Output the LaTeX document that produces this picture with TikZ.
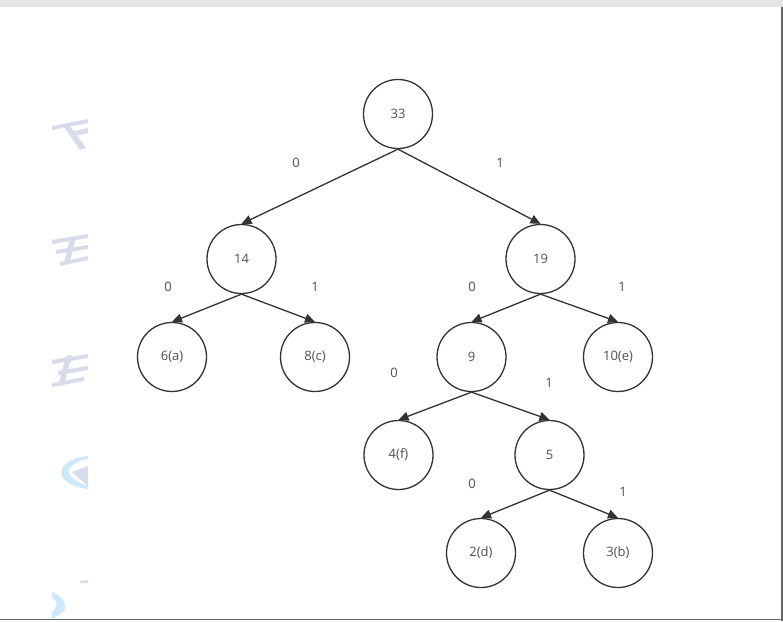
\documentclass[tikz,border=0pt]{standalone}
\usepackage{fontspec}
\setmainfont{Open Sans}
\usetikzlibrary{arrows.meta}
\definecolor{linec}{HTML}{333333}
\definecolor{txtc}{HTML}{505050}
\definecolor{wmgrey}{HTML}{D8DBE9}
\definecolor{wmblue}{HTML}{CDE9F9}
\tikzset{
  tnode/.style={circle, draw=linec, line width=1.3pt, minimum size=69pt, inner sep=0pt, font=\fontsize{13}{15}\selectfont, text=txtc},
  elabel/.style={font=\fontsize{13}{15}\selectfont, text=txtc, inner sep=0pt},
  edge/.style={draw=linec, line width=1.3pt, -{Triangle[length=10pt,width=9pt]}}
}
\begin{document}
\begin{tikzpicture}[x=1pt,y=-1pt]
\useasboundingbox (0,0) rectangle (783,621);
\fill[white] (0,0) rectangle (783,621);
% top bar and frame
\fill[black!10] (0,0) rectangle (783,6.5);
\draw[black!60, line width=2pt] (781.5,6.5) -- (781.5,621);
\draw[black!60, line width=1.5pt] (0,619.5) -- (781.5,619.5);
% faint watermark fragments
\begin{scope}
\clip (50,110) rectangle (88.5,621);
\fill[wmgrey] (52,126) -- (88,119) -- (88,123) -- (52,130) -- cycle;
\fill[wmgrey] (64,127) -- (70,126) -- (86,148) -- (80,150) -- cycle;
\fill[wmgrey] (70,132) -- (88,128) -- (88,133) -- (74,136) -- cycle;
\fill[wmgrey] (52,240) -- (88,234) -- (88,238) -- (52,244) -- cycle;
\fill[wmgrey] (56,250) -- (88,245) -- (88,249) -- (56,254) -- cycle;
\fill[wmgrey] (60,262) -- (88,256) -- (88,260) -- (60,266) -- cycle;
\fill[wmgrey] (70,238) -- (76,237) -- (70,262) -- (64,263) -- cycle;
\fill[wmgrey] (52,360) -- (88,354) -- (88,358) -- (52,364) -- cycle;
\fill[wmgrey] (58,371) -- (88,366) -- (88,370) -- (58,375) -- cycle;
\fill[wmgrey] (52,383) -- (84,377) -- (84,381) -- (52,387) -- cycle;
\fill[wmgrey] (66,356) -- (72,355) -- (64,385) -- (58,386) -- cycle;
\fill[wmblue] (88,456) .. controls (70,458) and (58,466) .. (62,476) .. controls (66,484) and (78,488) .. (88,489) -- (88,486) .. controls (76,482) and (66,476) .. (70,468) .. controls (74,462) and (82,460) .. (88,459) -- cycle;
\fill[wmgrey] (72,472) -- (88,466) -- (88,486) -- cycle;
\fill[wmgrey] (80,581) -- (88,580) -- (88,583) -- (80,583) -- cycle;
\fill[wmblue] (52,592) .. controls (62,596) and (68,604) .. (64,612) -- (52,619) -- (52,612) .. controls (58,608) and (58,600) .. (52,598) -- cycle;
\end{scope}
% nodes
\node[tnode] (n33) at (398,114) {33};
\node[tnode] (n14) at (241.5,259) {14};
\node[tnode] (n19) at (540.5,259) {19};
\node[tnode] (na) at (172,357) {6(a)};
\node[tnode] (nc) at (315,357) {8(c)};
\node[tnode] (n9) at (471.5,357) {9};
\node[tnode] (ne) at (618,357) {10(e)};
\node[tnode] (nf) at (398.5,455) {4(f)};
\node[tnode] (n5) at (549.5,455) {5};
\node[tnode] (nd) at (481,553) {2(d)};
\node[tnode] (nb) at (618,553) {3(b)};
% edges
\draw[edge] (n33.south) -- (n14.north);
\draw[edge] (n33.south) -- (n19.north);
\draw[edge] (n14.south) -- (na.north);
\draw[edge] (n14.south) -- (nc.north);
\draw[edge] (n19.south) -- (n9.north);
\draw[edge] (n19.south) -- (ne.north);
\draw[edge] (n9.south) -- (nf.north);
\draw[edge] (n9.south) -- (n5.north);
\draw[edge] (n5.south) -- (nd.north);
\draw[edge] (n5.south) -- (nb.north);
% edge labels
\node[elabel] (l1) at (296,163) {0};
\node[elabel] (l2) at (500,163) {1};
\node[elabel] (l3) at (168,287) {0};
\node[elabel] (l4) at (315,287) {1};
\node[elabel] (l5) at (472,287) {0};
\node[elabel] (l6) at (622,287) {1};
\node[elabel] (l7) at (394,373) {0};
\node[elabel] (l8) at (549,383) {1};
\node[elabel] (l9) at (472,484) {0};
\node[elabel] (l10) at (623,492) {1};
\end{tikzpicture}
\end{document}
